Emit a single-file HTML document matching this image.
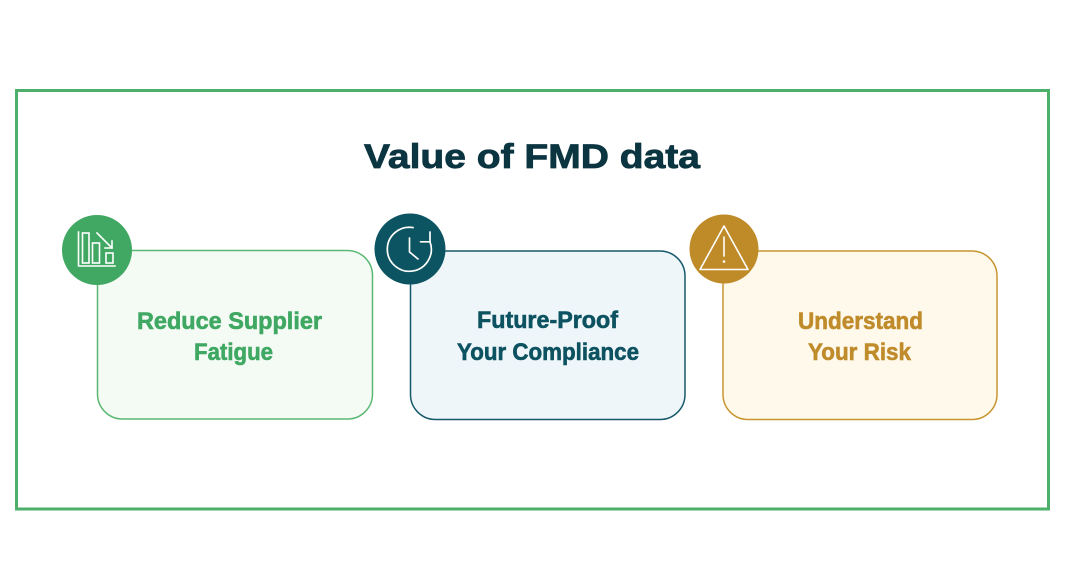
<!DOCTYPE html>
<html>
<head>
<meta charset="utf-8">
<style>
  html,body{margin:0;padding:0;background:#ffffff;}
  body{width:1068px;height:580px;overflow:hidden;}
  svg{display:block;}
  text{font-family:"Liberation Sans", Arial, sans-serif;font-weight:bold;}
</style>
</head>
<body>
<svg width="1068" height="580" viewBox="0 0 1068 580" xmlns="http://www.w3.org/2000/svg">
  <rect x="0" y="0" width="1068" height="580" fill="#ffffff"/>
  <!-- outer frame -->
  <rect x="16.5" y="90.5" width="1032" height="418.5" fill="none" stroke="#4caf6a" stroke-width="3"/>

  <!-- title -->
  <text x="364" y="168" font-size="34" fill="#0b3540" stroke="#0b3540" stroke-width="0.8" textLength="336" lengthAdjust="spacingAndGlyphs">Value of FMD data</text>

  <!-- card 1 -->
  <rect x="97.5" y="250.5" width="275" height="168.5" rx="25" ry="25" fill="#f4faf4" stroke="#5ab872" stroke-width="1.5"/>
  <circle cx="97" cy="250" r="35" fill="#41a863"/>
  <g fill="none" stroke="#ffffff" stroke-width="1.6" stroke-linecap="square">
    <path d="M78.5 232 V266 H115"/>
    <rect x="82.5" y="233" width="6.5" height="30"/>
    <rect x="92.5" y="243" width="7" height="20"/>
    <rect x="106" y="253" width="7" height="10"/>
    <path d="M97 233 L112 248"/>
    <path d="M112 241 V248 H105"/>
  </g>
  <g stroke-width="0.6">
  <text x="137" y="329" font-size="24" fill="#3fa862" stroke="#3fa862" textLength="185" lengthAdjust="spacingAndGlyphs">Reduce Supplier</text>
  <text x="194" y="360" font-size="24" fill="#3fa862" stroke="#3fa862" textLength="79" lengthAdjust="spacingAndGlyphs">Fatigue</text>
  </g>

  <!-- card 2 -->
  <rect x="410.5" y="251" width="274.5" height="168.5" rx="25" ry="25" fill="#eef6fa" stroke="#17596a" stroke-width="1.5"/>
  <circle cx="410" cy="249" r="35.5" fill="#0c5461"/>
  <g fill="none" stroke="#ffffff" stroke-width="1.7" stroke-linecap="round" stroke-linejoin="round">
    <path d="M413.1 227.6 A22 22 0 1 0 430 241.8"/>
    <path d="M420.5 241.8 H430 V232"/>
    <path d="M409.5 238 V252 L418 259"/>
  </g>
  <g stroke-width="0.6">
  <text x="477" y="328" font-size="24" fill="#0d5260" stroke="#0d5260" textLength="141" lengthAdjust="spacingAndGlyphs">Future-Proof</text>
  <text x="457" y="360" font-size="24" fill="#0d5260" stroke="#0d5260" textLength="182" lengthAdjust="spacingAndGlyphs">Your Compliance</text>
  </g>

  <!-- card 3 -->
  <rect x="723" y="251" width="274" height="168.5" rx="25" ry="25" fill="#fef9eb" stroke="#c8952f" stroke-width="1.5"/>
  <circle cx="724" cy="249" r="34.5" fill="#bf8a28"/>
  <g fill="none" stroke="#ffffff" stroke-width="1.6" stroke-linejoin="round" stroke-linecap="round">
    <path d="M724 226 L748 269.5 H700 Z"/>
    <path d="M724 237 V256"/>
  </g>
  <circle cx="724" cy="261.5" r="1.3" fill="#ffffff"/>
  <g stroke-width="0.6">
  <text x="798" y="329" font-size="24" fill="#c08b2b" stroke="#c08b2b" textLength="125" lengthAdjust="spacingAndGlyphs">Understand</text>
  <text x="808" y="360" font-size="24" fill="#c08b2b" stroke="#c08b2b" textLength="103" lengthAdjust="spacingAndGlyphs">Your Risk</text>
  </g>
</svg>
</body>
</html>
